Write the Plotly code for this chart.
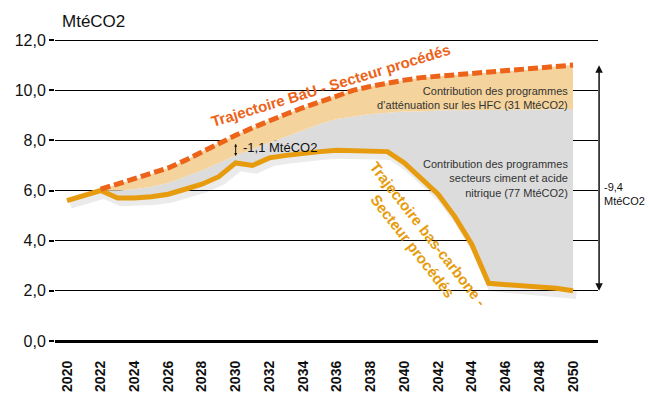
import plotly.graph_objects as go

years_low = list(range(2020, 2051))
low_carbon = [5.6, 5.8, 6.0, 5.7, 5.7, 5.75, 5.85, 6.05, 6.25, 6.55, 7.1, 7.0, 7.3, 7.4, 7.5,
              7.55, 7.6, 7.6, 7.6, 7.55, 7.1, 6.5, 5.85, 4.95, 3.85, 2.3, 2.25, 2.2, 2.15, 2.1, 2.0]

years_bau = list(range(2022, 2051))
bau = [6.05, 6.25, 6.45, 6.65, 6.9, 7.2, 7.55, 7.9, 8.2, 8.5, 8.8, 9.05, 9.3, 9.55, 9.8,
       10.0, 10.15, 10.3, 10.4, 10.5, 10.55, 10.6, 10.65, 10.7, 10.75, 10.8, 10.85, 10.95, 11.0]
hfc_lower = [6.0, 6.0, 6.05, 6.15, 6.3, 6.55, 6.8, 7.1, 7.4, 7.65, 7.9, 8.15, 8.4, 8.65, 8.85,
             8.95, 9.05, 9.1, 9.15, 9.15, 9.2, 9.2, 9.2, 9.2, 9.2, 9.22, 9.23, 9.24, 9.25]

total_reduction_top = 11.05
total_reduction_bottom = 2.0

tick_years = list(range(2020, 2051, 2))
y_ticks = [0, 2, 4, 6, 8, 10, 12]

FONT = "Liberation Sans, Arial, sans-serif"
C_BAU = "#EC6319"
C_LOW = "#E69C0E"
C_TAN = "#F4D39C"
C_GRAY = "#DCDCDC"

PLOT_H = 396 - 40 - 55
px_per_unit = PLOT_H / 12.0

low_after = low_carbon[2:]  # aligned with years_bau

fig = go.Figure()

# soft shadow under the low-carbon line
fig.add_trace(go.Scatter(x=[y + 0.2 for y in years_low], y=[v - 0.15 for v in low_carbon],
                         mode="lines", line=dict(color="rgba(0,0,0,0.08)", width=9),
                         hoverinfo="skip", showlegend=False))

# gray area (cement / nitric acid)
fig.add_trace(go.Scatter(x=years_bau, y=low_after, mode="lines", line=dict(width=0),
                         hoverinfo="skip", showlegend=False))
fig.add_trace(go.Scatter(x=years_bau, y=hfc_lower, mode="lines", line=dict(width=0),
                         fill="tonexty", fillcolor=C_GRAY, hoverinfo="skip", showlegend=False))
# tan area (HFC)
fig.add_trace(go.Scatter(x=years_bau, y=bau, mode="lines", line=dict(width=0),
                         fill="tonexty", fillcolor=C_TAN, hoverinfo="skip", showlegend=False))

# low-carbon trajectory
fig.add_trace(go.Scatter(x=years_low, y=low_carbon, mode="lines",
                         line=dict(color=C_LOW, width=5), showlegend=False))
# BaU trajectory
fig.add_trace(go.Scatter(x=years_bau, y=bau, mode="lines",
                         line=dict(color=C_BAU, width=5, dash="10px,4px"), showlegend=False))

fig.add_shape(type="line", xref="paper", x0=0, x1=1, yref="y", y0=12, y1=12,
              line=dict(color="black", width=2), layer="below")

anns = [
    dict(text="MtéCO2", xref="paper", yref="paper", x=0.009, y=1.063, xanchor="left",
         yanchor="middle", showarrow=False, font=dict(size=17, color="#111")),
    dict(text="<b>Trajectoire BaU - Secteur procédés</b>", x=2035.6, y=10.2, textangle=-17,
         showarrow=False, font=dict(size=15, color=C_BAU)),
    dict(text="<b>Trajectoire bas-carbone -<br>Secteur procédés</b>", x=2040.9, y=4.03,
         textangle=52, showarrow=False, align="center", font=dict(size=15, color=C_LOW)),
    dict(text="Contribution des programmes<br>d’atténuation sur les HFC (31 MtéCO2)",
         x=2049.8, y=9.69, xanchor="right", align="right", showarrow=False,
         font=dict(size=11, color="#333")),
    dict(text="Contribution des programmes<br>secteurs ciment et acide<br>nitrique (77 MtéCO2)",
         x=2049.8, y=6.46, xanchor="right", align="right", showarrow=False,
         font=dict(size=11, color="#333")),
    dict(text="-1,1 MtéCO2", x=2030.3, y=7.72, xanchor="left", showarrow=False,
         font=dict(size=13, color="#111")),
    dict(text="", x=2030.0, y=7.38, ax=2030.0, ay=7.92, xref="x", yref="y", axref="x", ayref="y",
         showarrow=True, arrowhead=2, arrowside="end+start", arrowsize=0.6, arrowwidth=1,
         arrowcolor="#111"),
    dict(text="", xref="paper", x=1.002, yref="y", y=total_reduction_bottom,
         axref="pixel", ax=0, ayref="pixel",
         ay=-(total_reduction_top - total_reduction_bottom) * px_per_unit,
         showarrow=True, arrowhead=2, arrowside="end+start", arrowsize=1, arrowwidth=1.5,
         arrowcolor="#111"),
    dict(text="-9,4<br>MtéCO2", xref="paper", x=1.008, yref="y", y=5.85, xanchor="left",
         align="left", showarrow=False, font=dict(size=11, color="#111")),
]

fig.update_layout(
    width=649, height=396,
    margin=dict(l=55, r=51, t=40, b=55, autoexpand=False),
    paper_bgcolor="white", plot_bgcolor="white",
    separators=", ",
    font=dict(family=FONT, color="#111"),
    showlegend=False,
    annotations=anns,
    xaxis=dict(range=[2019.29, 2051.48], tickvals=tick_years, ticktext=[str(t) for t in tick_years],
               tickangle=-90, tickfont=dict(size=14, weight="bold", color="#111"),
               showgrid=False, zeroline=False, showline=False, ticks="", ticklabelstandoff=16,
               automargin=False),
    yaxis=dict(range=[0, 12], tickvals=y_ticks, tickformat=".1f",
               tickfont=dict(size=16, color="#111"),
               showgrid=True, gridcolor="black", gridwidth=1,
               zeroline=True, zerolinecolor="black", zerolinewidth=3,
               ticks="outside", ticklen=5, tickwidth=2, tickcolor="black", showline=False,
               automargin=False),
)

fig.write_html("out.html", config={"displayModeBar": False},
               post_script="document.body.style.margin='0';document.body.style.overflow='hidden';")
